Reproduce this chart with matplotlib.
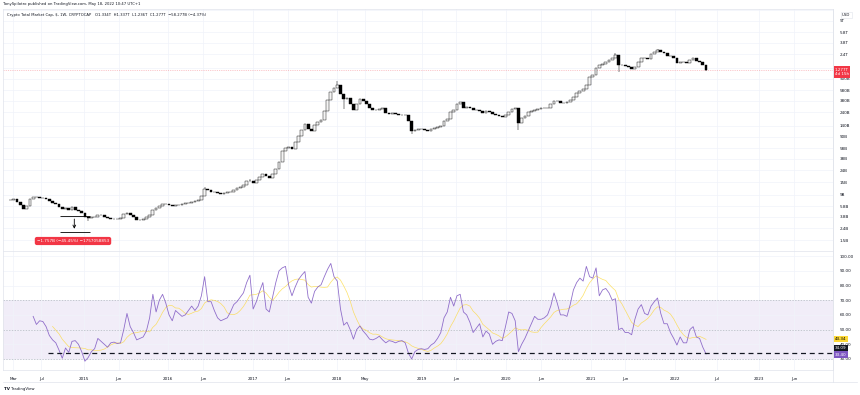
import numpy as np
import pandas as pd
import matplotlib
matplotlib.use("Agg")
import matplotlib.pyplot as plt

W, H = 860, 395
nan = np.nan

dates = pd.date_range("2014-02-17", periods=216, freq="14D")

# total market cap close, billions USD
close_b = [
    7.5, 7.8, 6.8, 6.0, 5.2, 5.9, 7.6, 8.2, 8.4, 8.0,
    7.9, 7.6, 7.2, 6.6, 6.2, 5.5, 5.2, 5.3, 5.0, 5.6,
    5.0, 4.7, 4.4, 3.8, 3.6, 3.7, 3.7, 4.0, 4.1, 3.8,
    3.6, 3.5, 3.5, 3.5, 3.6, 4.2, 4.4, 4.1, 3.7, 3.4,
    3.4, 3.5, 3.7, 4.0, 5.0, 5.3, 5.8, 6.4, 6.3, 6.0,
    5.9, 6.0, 6.1, 6.3, 6.5, 6.6, 6.8, 7.0, 7.4, 8.5,
    11.5, 10.8, 10.3, 10.0, 9.6, 9.5, 9.7, 10.0, 10.2, 10.8,
    11.8, 12.5, 13.5, 15.5, 16.0, 14.5, 16.5, 18.5, 20.5, 19.0,
    18.0, 21.0, 25.0, 33.0, 52.0, 58.0, 60.0, 55.0, 75.0, 95.0,
    120, 150, 125, 115, 143, 165, 180, 250, 390, 540,
    620, 700, 500, 400, 420, 330, 260, 330, 400, 380,
    340, 290, 260, 260, 270, 280, 230, 225, 230, 220,
    215, 212, 215, 170, 115, 120, 125, 122, 118, 113,
    125, 130, 135, 140, 170, 185, 240, 260, 330, 360,
    290, 300, 280, 265, 265, 250, 230, 250, 245, 225,
    215, 205, 200, 215, 245, 270, 285, 160, 190, 210,
    240, 250, 260, 270, 285, 280, 290, 330, 370, 380,
    350, 345, 360, 390, 440, 520, 560, 610, 700, 980,
    1050, 1400, 1550, 1650, 1750, 1900, 2100, 2300, 1550, 1600,
    1500, 1450, 1350, 1450, 1800, 2100, 2050, 2000, 2400, 2600,
    2800, 2650, 2500, 2250, 2200, 2100, 1700, 1800, 1750, 1700,
    1950, 2100, 1850, 1750, 1600, 1277,
]
# notable wicks (sample index -> billions)
wick_low = {24: 3.2, 103: 270, 124: 100, 157: 120, 188: 1200, 215: 1236}
wick_high = {60: 12.5, 74: 17.0, 101: 830, 187: 2500, 200: 3000}

rsi = [nan] * 7 + [
    59, 53.5, 56, 55.5, 52, 46, 43, 41, 36, 30.5,
    37.5, 34.5, 42, 42.5, 40, 35, 28.5, 31, 35, 37,
    44, 42, 40, 38, 41, 41.5, 40.5, 41, 50, 61,
    52, 48, 43, 44, 45, 49, 58, 74, 62, 70,
    74, 68, 60, 56, 63, 61, 59, 60, 63, 66,
    63, 66, 73, 86, 69, 69, 63, 58, 56, 57,
    58, 62, 67, 69, 72, 75, 82, 87, 64, 69,
    76, 82, 64, 62, 72, 82, 90, 92, 93, 80,
    73, 79, 84, 87, 89.5, 72, 68, 76, 79, 80.5,
    86, 91, 95, 86, 83, 64, 53, 55, 50, 43.5,
    50, 52.5, 49, 46.5, 43.5, 43, 44, 45.5, 43, 41,
    42.5, 42, 41, 42, 42.5, 41, 34, 30, 35, 36.5,
    37, 36.5, 37, 39.5, 41, 44, 48, 58, 62, 72,
    66, 73, 74, 62, 60, 55, 48, 51, 54, 45,
    49, 47, 40, 42, 43, 42.5, 52, 62, 61, 56,
    35, 40, 44, 49, 54, 59, 57, 57, 58, 60,
    66, 75, 68, 60, 60, 59, 67, 77, 82, 85,
    83, 93, 86, 85, 92, 73, 77, 78, 75, 70,
    71, 50, 51, 48, 48, 46.5, 57, 64, 67, 61,
    60, 66, 69, 71.5, 61, 54, 54, 48, 44, 39.5,
    45, 41, 41, 50, 52, 45, 44, 38, 33.4,
]
rsi_ma_len = 7  # 14 weeks on a two-week sampling

price_ticks = [1.5, 2.4, 3.8, 5.8, 9, 15, 24, 38, 58, 90, 140, 240, 380, 580,
               900, 1400, 2400, 3800, 5800, 9000, 14000]
# 1.4T sits under the last-price tag, 14T is cut off at the top
price_labels = ["1.5B", "2.4B", "3.8B", "5.8B", "9B", "15B", "24B", "38B", "58B",
                "90B", "140B", "240B", "380B", "580B", "900B", "", "2.4T",
                "3.8T", "5.8T", "9T", ""]
rsi_ticks = [30, 40, 50, 60, 70, 80, 90, 100]
x_ticks = ["2014-03-01", "2014-07-01", "2015-01-01", "2015-06-01", "2016-01-01",
           "2016-06-01", "2017-01-01", "2017-06-01", "2018-01-01", "2018-05-01",
           "2019-01-01", "2019-06-01", "2020-01-01", "2020-06-01", "2021-01-01",
           "2021-06-01", "2022-01-01", "2022-07-01", "2023-01-01", "2023-06-01"]
x_labels = ["Mar", "Jul", "2015", "Jun", "2016", "Jun", "2017", "Jun", "2018", "May",
            "2019", "Jun", "2020", "Jun", "2021", "Jun", "2022", "Jul", "2023", "Jun"]

last_close = 1277
level_line = 34.09
measure_top, measure_bot = 3.866, 2.109
measure_start, measure_end, measure_mid = "2014-09-20", "2015-01-26", "2014-11-20"

TXT = "#131722"
GRID = "#F0F3FA"
BORDER = "#E0E3EB"


def box(x0, y0, x1, y1):
    return [x0 / W, 1 - y1 / H, (x1 - x0) / W, (y1 - y0) / H]


def px_date(x):
    return pd.Timestamp("2015-01-01") + pd.Timedelta(days=(x - 84) / 84.4 * 365.25)


def px_price(y):
    return 10 ** (np.log10(9000) - (y - 21) / 58)


def px_rsi(y):
    return 30 + (359 - y) / 1.47


fig = plt.figure(figsize=(W / 100, H / 100), dpi=100)
ax = fig.add_axes(box(3, 9, 833, 251))
ax2 = fig.add_axes(box(3, 251, 833, 370), sharex=ax)

# candles
c = np.array(close_b, dtype=float)
o = np.concatenate([[c[0]], c[:-1]])
hi = np.maximum(o, c)
lo = np.minimum(o, c)
for k, v in wick_low.items():
    lo[k] = v
for k, v in wick_high.items():
    hi[k] = v
up = c >= o
ax.vlines(dates, lo, hi, color="black", lw=0.35, zorder=3)
ax.bar(dates[up], (c - o)[up], bottom=o[up], width=12, color="#F4F4F4",
       edgecolor="black", linewidth=0.3, zorder=4)
ax.bar(dates[~up], (o - c)[~up], bottom=c[~up], width=12, color="black",
       edgecolor="black", linewidth=0.3, zorder=4)
ax.axhline(last_close, color="#F23645", lw=0.4, ls=(0, (2, 2)), alpha=0.5, zorder=2)

ax.set_yscale("log")
ax.set_ylim(px_price(251), px_price(9))
ax.set_xlim(px_date(3), px_date(833))
ax.yaxis.tick_right()
ax.set_yticks(price_ticks)
ax.set_yticklabels(price_labels)
ax.minorticks_off()
ax.tick_params(axis="y", length=0, pad=5, labelsize=3, labelcolor=TXT)
ax.tick_params(axis="x", length=0, labelbottom=False)
ax.grid(True, color=GRID, lw=0.5)

# measure tool
ax.hlines([measure_top, measure_bot], pd.Timestamp(measure_start), pd.Timestamp(measure_end),
          color="black", lw=0.6, zorder=5)
ax.annotate("", xy=(pd.Timestamp(measure_mid), measure_bot),
            xytext=(pd.Timestamp(measure_mid), measure_top),
            arrowprops=dict(arrowstyle="->", color="black", lw=0.6, mutation_scale=5), zorder=5)
fig.text(73 / W, 1 - 241 / H, "\u22121.757B (\u221245.45%) \u22121757058853", fontsize=3,
         color="white", ha="center", va="center",
         bbox=dict(boxstyle="round,pad=0.5", fc="#F23645", ec="none"))

# RSI pane
r = pd.Series(rsi, index=dates)
ma = r.rolling(rsi_ma_len).mean()
ax2.axhspan(30, 70, color="#7E57C2", alpha=0.1, lw=0)
for lvl in (30, 50, 70):
    ax2.axhline(lvl, color="#787B86", lw=0.5, ls=(0, (2, 2)), alpha=0.5)
ax2.plot(dates, ma, color="#FDD835", lw=0.5, alpha=0.75)
ax2.plot(dates, r, color="#7E57C2", lw=0.6, alpha=0.85)
ax2.hlines(level_line, px_date(48), px_date(833), color=TXT, lw=0.9, ls=(0, (4, 3)))
ax2.set_ylim(px_rsi(370), px_rsi(251))
ax2.yaxis.tick_right()
ax2.set_yticks(rsi_ticks)
ax2.set_yticklabels([f"{t:.2f}" for t in rsi_ticks])
ax2.tick_params(axis="y", length=0, pad=5, labelsize=3, labelcolor=TXT)
ax2.set_xticks(pd.to_datetime(x_ticks))
ax2.set_xticklabels(x_labels)
ax2.tick_params(axis="x", length=0, pad=5, labelsize=3, labelcolor=TXT)
ax2.grid(True, color=GRID, lw=0.5)

for a in (ax, ax2):
    for s in a.spines.values():
        s.set_color(BORDER)
        s.set_linewidth(0.5)

# lines of the frame
fig.add_artist(plt.Line2D([833 / W, 833 / W], [1 - 382 / H, 1 - 9 / H], color=BORDER, lw=0.5))
fig.add_artist(plt.Line2D([3 / W, 857 / W], [1 - 382 / H, 1 - 382 / H], color=BORDER, lw=0.5))


# right axis value labels
def tag(y, text, fc, tc):
    fig.text(835 / W, 1 - y / H, text, fontsize=3, color=tc, ha="left", va="center",
             bbox=dict(boxstyle="square,pad=0.3", fc=fc, ec="none"))


tag(72, "1.277T\n4d 15h", "#F23645", "white")
tag(339, f"{ma.iloc[-1]:.2f}", "#FDD835", "black")
tag(348, f"{level_line:.2f}", TXT, "white")
tag(354.5, f"{rsi[-1]:.2f}", "#7E57C2", "white")
fig.text(842 / W, 1 - 15 / H, "USD", fontsize=2.8, color=TXT, ha="left", va="center",
         bbox=dict(boxstyle="square,pad=0.3", fc="white", ec=BORDER, lw=0.4))

# header and footer
fig.text(3 / W, 1 - 4 / H, "TonySpilotro published on TradingView.com, May 18, 2022 10:47 UTC+1",
         fontsize=2.7, color=TXT, ha="left", va="center")
fig.text(7 / W, 1 - 15 / H,
         "Crypto Total Market Cap, $, 1W, CRYPTOCAP   O1.334T  H1.337T  L1.236T  C1.277T  "
         "\u221258.277B (\u22124.37%)", fontsize=2.7, color=TXT, ha="left", va="center")
fig.text(4 / W, 1 - 389 / H, "TV", fontsize=3, color=TXT, weight="bold", ha="left", va="center")
fig.text(11 / W, 1 - 389 / H, "TradingView", fontsize=2.8, color=TXT, ha="left", va="center")

fig.savefig("out.png", dpi=100)
